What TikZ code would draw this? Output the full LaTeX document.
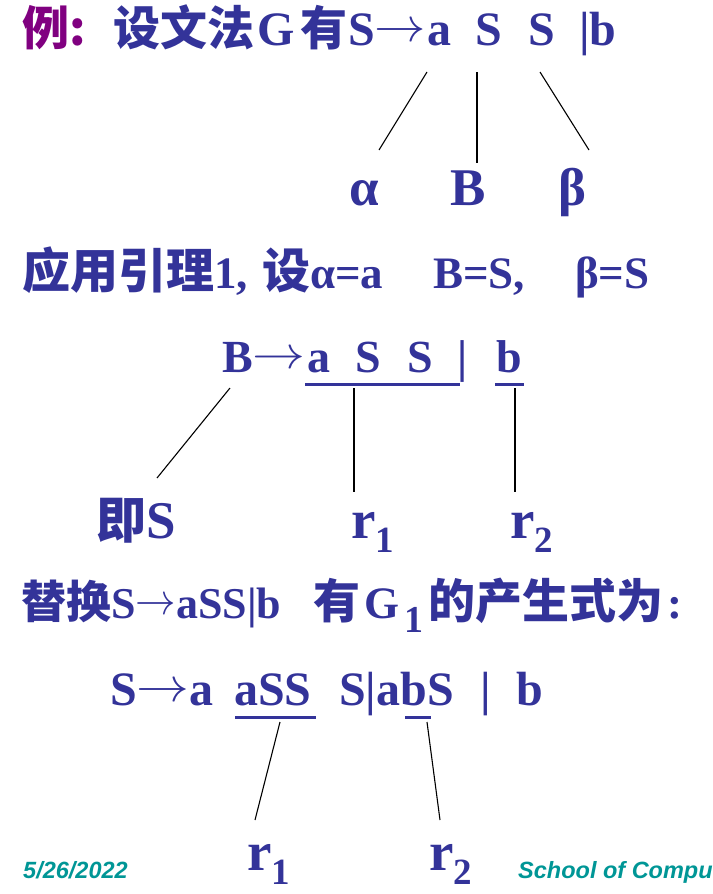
\RequirePackage{fix-cm}
\documentclass[tikz,border=0pt]{standalone}
\usepackage{graphicx}
\usepackage{fontspec}
\setmainfont{Liberation Serif}
\setsansfont{Liberation Sans}
\newfontfamily\cjk{Noto Sans CJK SC}
\definecolor{slideblue}{RGB}{51,51,153}
\definecolor{slidepurple}{RGB}{128,0,128}
\definecolor{slideteal}{RGB}{0,150,150}
\newcommand{\zh}[2]{{\fontsize{#1}{#1}\cjk\bfseries #2}}
\newcommand{\lowsub}[3]{\raisebox{-#2pt}{\fontsize{#1}{#1}\selectfont #3}}
\newcommand{\arr}[1][1]{\raisebox{0.08em}{\scalebox{#1}[1]{$\rightarrow$}}}
\begin{document}
\begin{tikzpicture}[x=1pt,y=-1pt,
  txt/.style={inner sep=0pt, anchor=base west, text=slideblue, font=\bfseries},
  fA/.style={font=\fontsize{48}{52}\selectfont\bfseries},
  fB/.style={font=\fontsize{45}{50}\selectfont\bfseries},
  fC/.style={font=\fontsize{46}{50}\selectfont\bfseries},
  fL/.style={font=\fontsize{53}{56}\selectfont\bfseries},
  fR/.style={font=\fontsize{55}{58}\selectfont\bfseries},
  foot/.style={inner sep=0pt, anchor=base west, text=slideteal, font=\sffamily\bfseries\itshape\fontsize{23.5}{26}\selectfont},
  link/.style={draw=black, line width=1.1pt},
  uline/.style={draw=slideblue, line width=3pt}]
\useasboundingbox (0,0) rectangle (712,894);
% ---- line 1
\node[txt, text=slidepurple] (ex) at (22,45) {\zh{47}{例:}};
\node[txt, fA] (g1a) at (113,45) {\zh{47}{设文法}\hspace{3pt}G\hspace{6pt}\zh{47}{有}};
\node[txt, fA] (g1b) at (348,45) {S\arr[1.07]\hspace{1pt}a};
\node[txt, fA] (g1c) at (475,45) {S};
\node[txt, fA] (g1d) at (528,45) {S};
\node[txt, fA] (g1e) at (579,45) {|b};
\node[txt, fL] (alpha) at (349,205) {α};
\node[txt, fL] (bb) at (450,205) {B};
\node[txt, fL] (beta) at (558,205) {β};
\coordinate (p1a) at (427,72);  \coordinate (q1a) at (379,150);
\coordinate (p1b) at (477,72);  \coordinate (q1b) at (477,163);
\coordinate (p1c) at (540,72);  \coordinate (q1c) at (589,150);
\draw[link] (p1a) -- (q1a);
\draw[link] (p1b) -- (q1b);
\draw[link] (p1c) -- (q1c);
% ---- line 2
\node[txt, fB] (l2a) at (22,288) {\zh{48}{应用引理}1,};
\node[txt, fB] (l2b) at (262,288) {\zh{48}{设}α=a};
\node[txt, fB] (l2c) at (433,288) {B=S,};
\node[txt, fB] (l2d) at (575,288) {β=S};
% ---- line 3
\node[txt, fC] (l3a) at (222,372) {B\arr[1.15]\hspace{2pt}a};
\node[txt, fC] (l3b) at (355,372) {S};
\node[txt, fC] (l3c) at (407,372) {S};
\node[txt, fC] (l3d) at (457,372) {|};
\node[txt, fC] (l3e) at (496,372) {b};
\coordinate (u1s) at (305,384); \coordinate (u1e) at (460,384);
\coordinate (u2s) at (495,384); \coordinate (u2e) at (524,384);
\draw[uline] (u1s) -- (u1e);
\draw[uline] (u2s) -- (u2e);
\node[txt, fL] (jis) at (96,538) {\zh{50}{即}S};
\node[txt, fR] (r1a) at (351,538) {r\lowsub{37}{14}{1}};
\node[txt, fR] (r2a) at (510,538) {r\lowsub{37}{14}{2}};
\coordinate (p3a) at (230,388); \coordinate (q3a) at (157,478);
\coordinate (p3b) at (354,388); \coordinate (q3b) at (354,492);
\coordinate (p3c) at (515,388); \coordinate (q3c) at (515,492);
\draw[link] (p3a) -- (q3a);
\draw[link] (p3b) -- (q3b);
\draw[link] (p3c) -- (q3c);
% ---- line 4
\node[txt, font=\fontsize{44}{48}\selectfont\bfseries] (l4a) at (21,618)
  {\zh{45}{替换}S\arr[0.92]aSS|b};
\node[txt, font=\fontsize{45}{50}\selectfont\bfseries] (l4b) at (313,618)
  {\zh{47}{有}\hspace{4pt}G\hspace{5pt}\lowsub{38}{14}{1}\hspace{5pt}\zh{47}{的产生式为}\hspace{4pt}:};
% ---- line 5
\node[txt, fA] (l5a) at (110,705) {S\arr[1.1]a};
\node[txt, fA] (l5b) at (234,705) {aSS};
\node[txt, fA] (l5c) at (339,705) {S|abS};
\node[txt, fA] (l5d) at (480,705) {|};
\node[txt, fA] (l5e) at (516,705) {b};
\coordinate (u3s) at (235,717); \coordinate (u3e) at (316,717);
\coordinate (u4s) at (405,717); \coordinate (u4e) at (431,717);
\draw[uline] (u3s) -- (u3e);
\draw[uline] (u4s) -- (u4e);
\coordinate (p5a) at (280,722); \coordinate (q5a) at (255,820);
\coordinate (p5b) at (427,722); \coordinate (q5b) at (440,820);
\draw[link] (p5a) -- (q5a);
\draw[link] (p5b) -- (q5b);
\node[txt, fR] (r1b) at (247,870) {r\lowsub{37}{14}{1}};
\node[txt, fR] (r2b) at (429,870) {r\lowsub{37}{14}{2}};
% ---- footer
\node[foot] (date) at (23,878) {5/26/2022};
\node[foot] (school) at (518,878) {School of Compu};
\end{tikzpicture}
\end{document}
